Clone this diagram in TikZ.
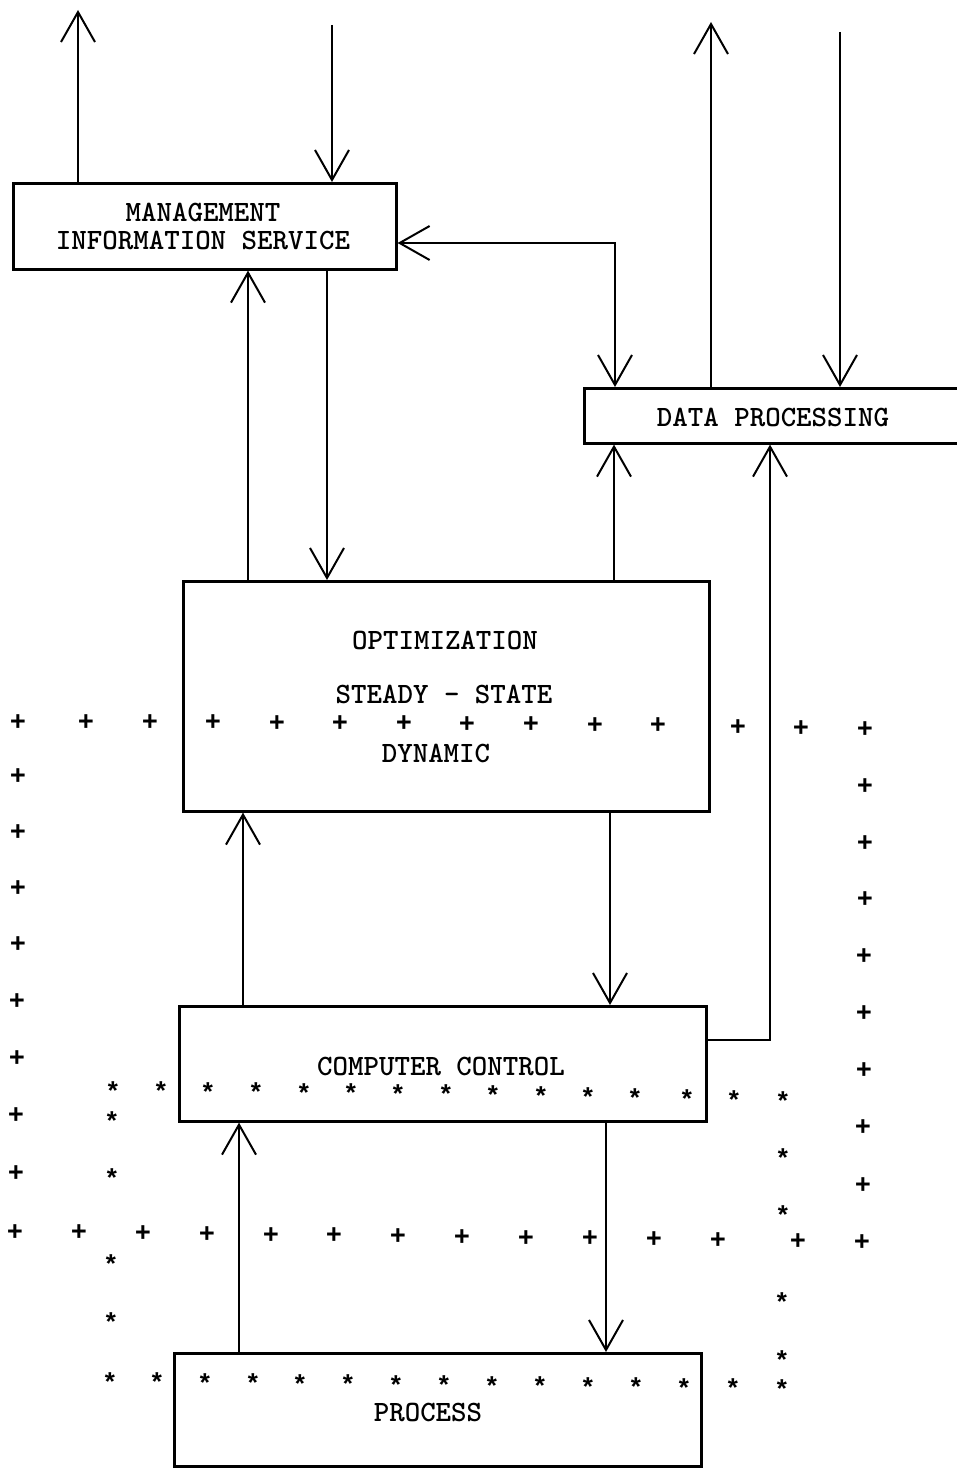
\documentclass[tikz,border=0pt]{standalone}
\usepackage{fontspec}
\usetikzlibrary{arrows.meta}
\newfontfamily\tw{Liberation Mono}
\begin{document}
\begin{tikzpicture}[x=1pt,y=-1pt,
  box/.style={draw,line width=2.6pt,inner sep=0pt,anchor=north west},
  lbl/.style={font=\ttfamily\bfseries\fontsize{29.5}{29.5}\selectfont,inner sep=0pt},
  arr/.style={line width=2pt,-{Straight Barb[length=30pt,width=34pt,line width=2pt]}},
  arrtwo/.style={line width=2pt,{Straight Barb[length=30pt,width=34pt,line width=2pt]}-{Straight Barb[length=30pt,width=34pt,line width=2pt]}},
  pl/.style={font=\tw\bfseries\fontsize{27}{27}\selectfont,inner sep=0pt},
  st/.style={font=\tw\bfseries\fontsize{26}{26}\selectfont,inner sep=0pt,yshift=-5pt}]
\useasboundingbox (0,0) rectangle (957,1469);

% blocks
\node[box,minimum width=383pt,minimum height=86pt] (mis) at (12,182) {};
\node[lbl] at (203,212) {MANAGEMENT};
\node[lbl] at (203,240) {INFORMATION SERVICE};
\node[box,minimum width=380pt,minimum height=55pt] (dp) at (583,387) {};
\node[lbl] at (773,417) {DATA PROCESSING};
\node[box,minimum width=526pt,minimum height=230pt] (opt) at (182,580) {};
\node[lbl] at (445,640) {OPTIMIZATION};
\node[lbl] at (444,694) {STEADY - STATE};
\node[lbl] at (436,753) {DYNAMIC};
\node[box,minimum width=527pt,minimum height=115pt] (cc) at (178,1005) {};
\node[lbl] at (441,1066) {COMPUTER CONTROL};
\node[box,minimum width=527pt,minimum height=113pt] (proc) at (173,1352) {};
\node[lbl] at (428,1412) {PROCESS};

% free ends of the outside connections
\coordinate (misout) at (78,10);
\coordinate (misin) at (332,25);
\coordinate (dpout) at (711,22);
\coordinate (dpin) at (840,32);
\coordinate (cccorner) at (770,1040);

% connections
\draw[arr] (mis.north -| misout) -- (misout);
\draw[arr] (misin) -- (mis.north -| misin);
\draw[arr] (dp.north -| dpout) -- (dpout);
\draw[arr] (dpin) -- (dp.north -| dpin);
\draw[arrtwo] (mis.east |- 0,243) -| (dp.north -| 615,0);
\draw[arr] (opt.north -| 248,0) -- (mis.south -| 248,0);
\draw[arr] (mis.south -| 327,0) -- (opt.north -| 327,0);
\draw[arr] (opt.north -| 614,0) -- (dp.south -| 614,0);
\draw[arr] (cc.east |- cccorner) -- (cccorner) -- (dp.south -| cccorner);
\draw[arr] (cc.north -| 243,0) -- (opt.south -| 243,0);
\draw[arr] (opt.south -| 610,0) -- (cc.north -| 610,0);
\draw[arr] (proc.north -| 239,0) -- (cc.south -| 239,0);
\draw[arr] (cc.south -| 606,0) -- (proc.north -| 606,0);

% outer ring of plus marks
\foreach \x/\y in {18/723,86/723,150/723,213/723,277/724,340/724,404/724,467/725,
    531/725,595/726,658/726,738/728,801/729,865/730,
    18/777,18/833,18/889,18/945,17/1002,17/1059,16/1116,16/1174,
    865/787,865/844,865/900,864/957,864/1014,864/1071,863/1128,863/1186,
    15/1233,79/1233,143/1234,207/1235,271/1236,334/1236,398/1237,462/1238,
    526/1239,590/1239,654/1240,718/1241,798/1242,862/1243}
  \node[pl] at (\x,\y) {+};

% inner ring of star marks
\foreach \x/\y in {113/1086,161/1086,208/1087,256/1087,304/1088,351/1088,398/1089,
    446/1089,493/1090,541/1091,588/1092,635/1093,687/1094,734/1095,783/1096,
    112/1116,112/1173,111/1259,111/1317,
    783/1153,783/1210,782/1297,782/1355,
    110/1377,157/1377,205/1378,253/1378,300/1379,348/1379,396/1380,444/1380,
    492/1381,540/1381,588/1382,636/1382,684/1383,733/1383,782/1384}
  \node[st] at (\x,\y) {*};
\end{tikzpicture}
\end{document}
